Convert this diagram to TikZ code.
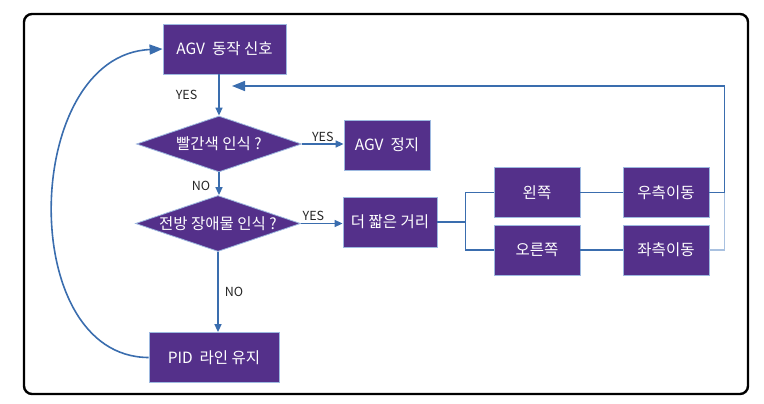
\documentclass[tikz,border=0pt]{standalone}
\usepackage{fontspec}
\setmainfont{Noto Sans CJK KR}
\usetikzlibrary{shapes.geometric,arrows.meta}
\definecolor{boxfill}{HTML}{54308A}
\definecolor{boxedge}{HTML}{9DB9E0}
\definecolor{flowblue}{HTML}{3A6DAE}
\definecolor{faintblue}{HTML}{A9C1E0}
\begin{document}
\begin{tikzpicture}[
        x=1pt, y=-1pt,
        box/.style={draw=boxedge, line width=0.8pt, fill=boxfill,
            text=white, font=\fontsize{15.5}{17}\selectfont,
            minimum height=50pt, inner sep=2pt},
        decision/.style={box, diamond, aspect=2.95, minimum width=165pt,
            minimum height=56pt, inner sep=0pt},
        flow/.style={draw=flowblue, line width=1.6pt},
        tip/.style={-{Triangle[length=8pt,width=7pt]}},
        bigtip/.style={-{Triangle[length=13pt,width=10pt]}},
        lbl/.style={text=black!85, font=\fontsize{12.5}{14}\selectfont,
            inner sep=1pt}
    ]
            \useasboundingbox (0,0) rectangle (764,404);
            \draw[line width=2.4pt, rounded corners=8pt] (24,14) rectangle (748,394);

            \node[box, minimum width=123pt, name=sig] at (224.5,49) {AGV~ 동작 신호};
            \node[decision, name=red] at (219,144) {빨간색 인식 ?};
            \node[box, minimum width=86pt, name=stop] at (387,145) {AGV~ 정지};
            \node[decision, name=obst] at (218,223.5) {전방 장애물 인식 ?};
            \node[box, minimum width=94pt, name=short] at (390,222) {더 짧은 거리};
            \node[box, minimum width=86pt, name=lside] at (537,192.5) {왼쪽};
            \node[box, minimum width=86pt, name=rside] at (537,250) {오른쪽};
            \node[box, minimum width=86pt, name=rmove] at (666,192.5) {우측이동};
            \node[box, minimum width=86pt, name=lmove] at (666,250) {좌측이동};
            \node[box, minimum width=130pt, name=pid] at (214,357.5) {PID~ 라인 유지};

            \coordinate (back) at (232,86);
            \coordinate (turn) at ([xshift=15pt]rmove.east);

            \draw[flow, tip] (sig.south -| red.north) -- (red.north)
                node[lbl, midway, left=20pt] {YES};
            \draw[flow, tip] (red.east) -- (stop.west |- red.east)
                node[lbl, midway, above=1pt] {YES};
            \draw[flow, tip] (red.south) -- (red.south |- obst.north)
                node[lbl, pos=0.6, left=7pt] {NO};
            \draw[flow, tip] (obst.east) -- (short.west |- obst.east)
                node[lbl, pos=0.3, above=1pt] {YES};
            \draw[flow, tip] (obst.south) -- (obst.south |- pid.north)
                node[lbl, midway, right=5pt] {NO};

            \draw[flow] (short.east) -- ++(28,0) coordinate (fork);
            \draw[flow] (fork) |- (lside.west);
            \draw[flow] (fork) |- (rside.west);

            \draw[flow] (lside) -- (rmove);
            \draw[flow] (rside) -- (lmove);

            \draw[faintblue, line width=1.6pt] (lmove.east) -| (turn);
            \draw[flow, bigtip] (rmove.east) -- (turn) |- (back);

            \draw[flow, bigtip] (pid.west) .. controls (15,357) and (22,55) .. (sig.west);
\end{tikzpicture}
\end{document}
